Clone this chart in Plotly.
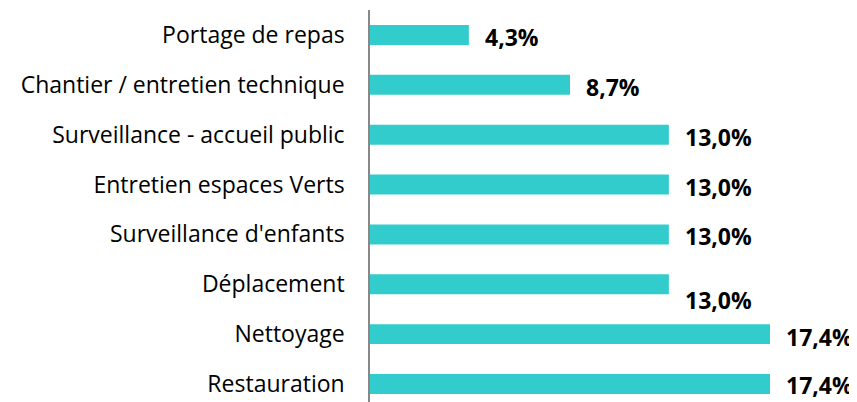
import plotly.graph_objects as go

categories = ["Restauration", "Nettoyage", "Déplacement", "Surveillance d'enfants",
              "Entretien espaces Verts", "Surveillance - accueil public",
              "Chantier / entretien technique", "Portage de repas"]
values = [17.4, 17.4, 13.0, 13.0, 13.0, 13.0, 8.7, 4.3]
value_labels = ["17,4%", "17,4%", "13,0%", "13,0%", "13,0%", "13,0%", "8,7%", "4,3%"]
label_yshift = [-1, -3, -16, -2, -2, -2, -2, -2]

FONT = "Open Sans"
fig = go.Figure(go.Bar(
    x=values, y=categories, orientation="h",
    marker=dict(color="#33CCCC", line=dict(width=0)),
    width=0.4, hoverinfo="skip",
))

for c, v, t, ys in zip(categories, values, value_labels, label_yshift):
    fig.add_annotation(x=v, y=c, text="<b>" + t + "</b>", showarrow=False,
                       xanchor="left", yanchor="middle", xshift=14, yshift=ys,
                       font=dict(family=FONT, size=23, color="black"))

# page body has an 8px margin: figure is shifted by (8, 8)
fig.update_layout(
    width=849, height=394,
    margin=dict(l=362, r=0, t=2, b=0, autoexpand=False),
    plot_bgcolor="white", paper_bgcolor="white",
    showlegend=False,
    font=dict(family=FONT, size=23, color="black"),
    xaxis=dict(range=[0, 17.4 * 487 / 400], visible=False, fixedrange=True,
               automargin=False),
    yaxis=dict(type="category", categoryorder="array", categoryarray=categories,
               range=[-0.361, 7.501], showline=True, linecolor="#888888",
               linewidth=1.5, ticks="", ticklabelstandoff=19, automargin=False,
               tickfont=dict(family=FONT, size=23, color="black"),
               showgrid=False, zeroline=False),
)

fig.write_html("out.html")
